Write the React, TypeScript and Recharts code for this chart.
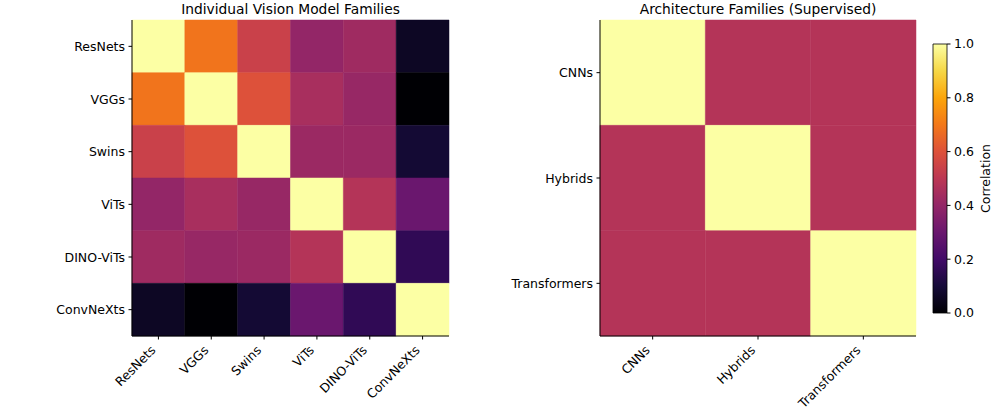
import React from 'react';
import { ScatterChart, Scatter, XAxis, YAxis, ReferenceArea, Label } from 'recharts';

const families = ['ResNets', 'VGGs', 'Swins', 'ViTs', 'DINO-ViTs', 'ConvNeXts'];
const resnetsRow = [1.0, 0.69, 0.54, 0.4, 0.43, 0.06];
const vggsRow = [0.69, 1.0, 0.6, 0.45, 0.41, 0.0];
const swinsRow = [0.54, 0.6, 1.0, 0.42, 0.42, 0.09];
const vitsRow = [0.4, 0.45, 0.41, 1.0, 0.48, 0.3];
const dinoVitsRow = [0.43, 0.41, 0.42, 0.48, 1.0, 0.16];
const convNeXtsRow = [0.06, 0.0, 0.09, 0.3, 0.16, 1.0];
const familyMatrix = [resnetsRow, vggsRow, swinsRow, vitsRow, dinoVitsRow, convNeXtsRow];

const architectures = ['CNNs', 'Hybrids', 'Transformers'];
const cnnsRow = [1.0, 0.48, 0.48];
const hybridsRow = [0.48, 1.0, 0.48];
const transformersRow = [0.48, 0.48, 1.0];
const archMatrix = [cnnsRow, hybridsRow, transformersRow];

const colorbarTicks = [0, 0.2, 0.4, 0.6, 0.8, 1.0];

const INFERNO = [
  '#000004', '#160b39', '#420a68', '#6a176e', '#932667', '#bc3754',
  '#dd513a', '#f37819', '#fca50a', '#f6d746', '#fcffa4',
];

function hexToRgb(h: string) {
  return [parseInt(h.slice(1, 3), 16), parseInt(h.slice(3, 5), 16), parseInt(h.slice(5, 7), 16)];
}

function inferno(v: number) {
  const t = Math.max(0, Math.min(1, v)) * (INFERNO.length - 1);
  const i = Math.min(INFERNO.length - 2, Math.floor(t));
  const f = t - i;
  const a = hexToRgb(INFERNO[i]);
  const b = hexToRgb(INFERNO[i + 1]);
  const c = a.map((av, k) => Math.round(av + (b[k] - av) * f));
  return `rgb(${c[0]},${c[1]},${c[2]})`;
}

const FONT = 'DejaVu Sans';
const TICK_SIZE = 12.5;

const XTick = (props: any) => {
  const { x, y, payload, labels } = props;
  const label = labels[payload.value];
  return (
    <g transform={`translate(${x - 2},${y + 8}) rotate(-45)`}>
      <text x={0} y={0} textAnchor="end" fontFamily={FONT} fontSize={TICK_SIZE} fill="#000">
        {label}
      </text>
    </g>
  );
};

const YTick = (props: any) => {
  const { x, y, payload, labels } = props;
  return (
    <text x={x} y={y} textAnchor="end" dominantBaseline="central" fontFamily={FONT} fontSize={TICK_SIZE} fill="#000">
      {labels[payload.value]}
    </text>
  );
};

type HeatProps = {
  labels: string[];
  matrix: number[][];
  width: number;
  height: number;
  yAxisWidth: number;
  margin: { top: number; right: number; bottom: number; left: number };
};

function Heatmap({ labels, matrix, width, height, yAxisWidth, margin }: HeatProps) {
  const n = labels.length;
  const idx = labels.map((_, i) => i);
  const cells = matrix.flatMap((row, r) => row.map((v, c) => ({ x: c, y: r, v })));
  return (
    <ScatterChart width={width} height={height} margin={margin}>
      <XAxis
        type="number"
        dataKey="x"
        domain={[-0.5, n - 0.5]}
        ticks={idx}
        interval={0}
        height={60}
        tickSize={3.5}
        tickMargin={3.5}
        axisLine={{ stroke: '#000', strokeWidth: 1 }}
        tickLine={{ stroke: '#000', strokeWidth: 1 }}
        tick={<XTick labels={labels} />}
        allowDataOverflow
      />
      <YAxis
        type="number"
        dataKey="y"
        reversed
        domain={[-0.5, n - 0.5]}
        ticks={idx}
        interval={0}
        width={yAxisWidth}
        tickSize={3.5}
        tickMargin={3.5}
        axisLine={{ stroke: '#000', strokeWidth: 1 }}
        tickLine={{ stroke: '#000', strokeWidth: 1 }}
        tick={<YTick labels={labels} />}
        allowDataOverflow
      />
      {cells.map((c) => (
        <ReferenceArea
          key={`${c.x}-${c.y}`}
          x1={c.x - 0.5}
          x2={c.x + 0.5}
          y1={c.y - 0.5}
          y2={c.y + 0.5}
          fill={inferno(c.v)}
          fillOpacity={1}
          stroke={inferno(c.v)}
          strokeWidth={0.5}
          ifOverflow="visible"
        />
      ))}
      <Scatter data={cells} isAnimationActive={false} shape={() => <g />} />
    </ScatterChart>
  );
}

function Colorbar() {
  const stops = INFERNO.map((c, i) => ({ off: 1 - i / (INFERNO.length - 1), c }));
  return (
    <ScatterChart width={96} height={415} margin={{ top: 44, right: 9, bottom: 102, left: 33 }}>
      <defs>
        <linearGradient id="infernoGrad" x1="0" y1="0" x2="0" y2="1">
          {stops
            .slice()
            .sort((a, b) => a.off - b.off)
            .map((s, i) => (
              <stop key={i} offset={`${s.off * 100}%`} stopColor={s.c} />
            ))}
        </linearGradient>
      </defs>
      <XAxis type="number" dataKey="x" domain={[0, 1]} hide />
      <YAxis
        type="number"
        dataKey="y"
        orientation="right"
        domain={[0, 1]}
        ticks={colorbarTicks}
        interval={0}
        width={40}
        tickSize={3.5}
        tickMargin={3.5}
        axisLine={false}
        tickLine={{ stroke: '#000', strokeWidth: 1 }}
        tick={{ fontFamily: FONT, fontSize: TICK_SIZE, fill: '#000' }}
        tickFormatter={(v: number) => v.toFixed(1)}
      >
        <Label
          content={(p: any) => {
            const vb = p.viewBox || {};
            const cx = (vb.x ?? 947) + 38;
            const cy = (vb.y ?? 44) + (vb.height ?? 269) / 2;
            return (
              <text
                x={cx}
                y={cy}
                transform={`rotate(-90 ${cx} ${cy})`}
                textAnchor="middle"
                dominantBaseline="central"
                fontFamily={FONT}
                fontSize={TICK_SIZE}
                fill="#000"
              >
                Correlation
              </text>
            );
          }}
        />
      </YAxis>
      <ReferenceArea x1={0} x2={1} y1={0} y2={1} fill="url(#infernoGrad)" fillOpacity={1} stroke="#000" strokeWidth={0.8} ifOverflow="visible" />
      <Scatter data={[{ x: 0.5, y: 0.5 }]} isAnimationActive={false} shape={() => <g />} />
    </ScatterChart>
  );
}

const titleStyle: React.CSSProperties = {
  position: 'absolute',
  top: 0,
  width: 400,
  textAlign: 'center',
  fontFamily: FONT,
  fontSize: 13.8,
  lineHeight: '18px',
  color: '#000',
};

export default function App() {
  return (
    <div style={{ position: 'absolute', left: 0, top: 0, width: 996, height: 415, background: '#fff', overflow: 'hidden' }}>
      <div style={{ ...titleStyle, left: 290.5 - 200 }}>Individual Vision Model Families</div>
      <div style={{ ...titleStyle, left: 758 - 200 }}>Architecture Families (Supervised)</div>
      <div style={{ position: 'absolute', left: 0, top: 0 }}>
        <Heatmap
          labels={families}
          matrix={familyMatrix}
          width={460}
          height={415}
          yAxisWidth={80}
          margin={{ top: 20, right: 11, bottom: 19, left: 52 }}
        />
      </div>
      <div style={{ position: 'absolute', left: 460, top: 0 }}>
        <Heatmap
          labels={architectures}
          matrix={archMatrix}
          width={470}
          height={415}
          yAxisWidth={90}
          margin={{ top: 20, right: 14, bottom: 19, left: 50 }}
        />
      </div>
      <div style={{ position: 'absolute', left: 900, top: 0 }}>
        <Colorbar />
      </div>
    </div>
  );
}
